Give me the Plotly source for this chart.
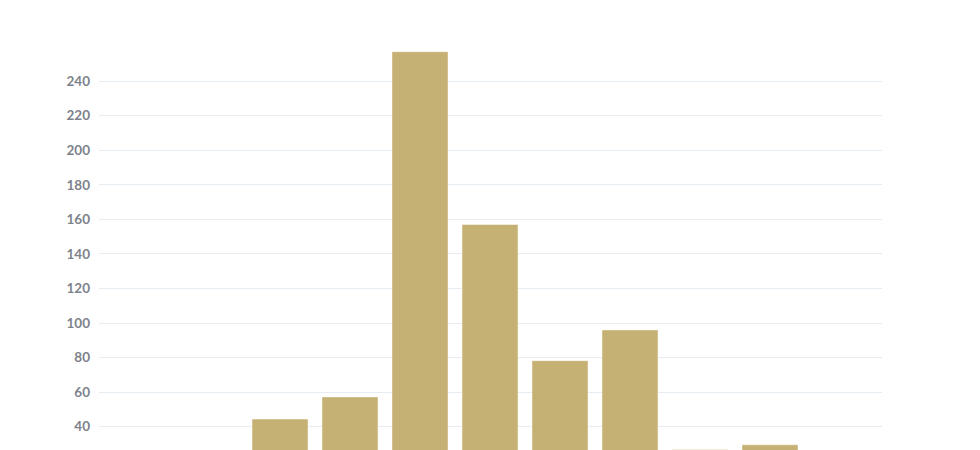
import plotly.graph_objects as go

positions = [0, 1, 2, 3, 4, 5, 6, 7]
values = [44.4, 57.2, 257, 157, 78.2, 96, 26.8, 29.5]
y_ticks = [40, 60, 80, 100, 120, 140, 160, 180, 200, 220, 240]

fig = go.Figure()
fig.add_trace(go.Bar(
    x=positions, y=values, width=0.8,
    marker=dict(color="#c6b174", line=dict(color="rgba(255,255,255,0.45)", width=1)),
    showlegend=False,
))
fig.update_layout(
    width=980, height=450,
    margin=dict(l=91, r=106, t=42, b=8),
    paper_bgcolor="white", plot_bgcolor="white",
    xaxis=dict(range=[-2.586, 8.6], showticklabels=False, showgrid=False, zeroline=False, showline=False, ticks=""),
    yaxis=dict(range=[26.5, 258], tickvals=y_ticks, showgrid=True, gridcolor="#e5ecf2", gridwidth=1,
               zeroline=False, showline=False, ticks="", ticklabelstandoff=8,
               tickfont=dict(family="Lato", size=13.5, color="#7d828b", weight="bold")),
    bargap=0.2,
)
fig.write_html("out.html")
